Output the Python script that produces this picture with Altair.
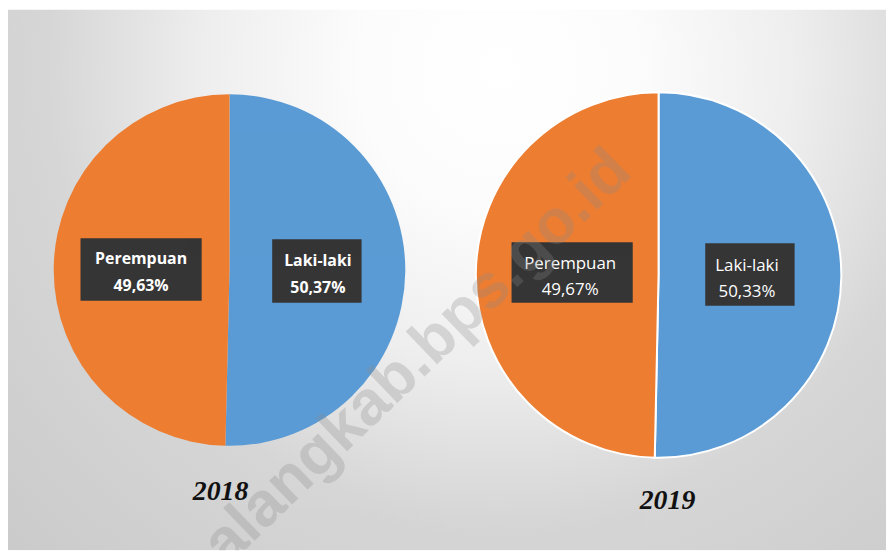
import altair as alt
import pandas as pd

# ---- data ----
years = ["2018", "2019"]
categories = ["Laki-laki", "Perempuan"]
pct_2018 = [50.37, 49.63]
pct_2019 = [50.33, 49.67]
pct_text_2018 = ["50,37%", "49,63%"]
pct_text_2019 = ["50,33%", "49,67%"]
watermark = "alangkab.bps.go.id"

rows = []
for yr, vals, txts in [("2018", pct_2018, pct_text_2018), ("2019", pct_2019, pct_text_2019)]:
    for i, (c, v, t) in enumerate(zip(categories, vals, txts)):
        rows.append({"year": yr, "cat": c, "pct": v, "idx": i, "label": c + "\n" + t})
df = pd.DataFrame(rows)
one = pd.DataFrame({"k": [0]})

# ---- layout ----
W, H = 884, 544
BLUE, ORANGE = "#5B9BD5", "#ED7D31"
BOX = "#353535"
pies = {"2018": dict(cx=223, cy=262, r=177, stroke=0, bold=True, ty=485, tx=214),
        "2019": dict(cx=655, cy=267, r=184, stroke=2, bold=False, ty=495, tx=664)}
boxes = [(73, 230, 195, 293), (266, 231, 356, 295), (507, 234, 629, 295), (702, 235, 792, 298)]

color = alt.Color("cat:N", scale=alt.Scale(domain=categories, range=[BLUE, ORANGE]), legend=None)

gradient = {
    "gradient": "radial",
    "x1": 0.55, "y1": 0.536, "r1": 0,
    "x2": 0.55, "y2": 0.536, "r2": 0.75,
    "stops": [
        {"offset": 0, "color": "#ffffff"},
        {"offset": 0.18, "color": "#fcfcfc"},
        {"offset": 0.38, "color": "#eeeeee"},
        {"offset": 0.58, "color": "#d6d6d6"},
        {"offset": 1, "color": "#c6c6c6"},
    ],
}

bg = alt.Chart(one).mark_rect(color=gradient, clip=True).encode(
    x=alt.value(0), x2=alt.value(W), y=alt.value(-500), y2=alt.value(H)
)

layers = [bg]
for yr in years:
    p = pies[yr]
    arc_kwargs = dict(outerRadius=p["r"])
    if p["stroke"]:
        arc_kwargs.update(stroke="white", strokeWidth=p["stroke"])
    layers.append(
        alt.Chart(df).transform_filter(alt.datum.year == yr).mark_arc(**arc_kwargs).encode(
            theta=alt.Theta("pct:Q", stack=True),
            order=alt.Order("idx:Q"),
            color=color,
            x=alt.value(p["cx"]), y=alt.value(p["cy"]),
        )
    )

for (x0, y0, x1, y1) in boxes:
    layers.append(
        alt.Chart(one).mark_rect(color=BOX).encode(
            x=alt.value(x0), x2=alt.value(x1), y=alt.value(y0), y2=alt.value(y1)
        )
    )

for yr in years:
    p = pies[yr]
    layers.append(
        alt.Chart(df).transform_filter(alt.datum.year == yr).mark_text(
            font="Open Sans", fontSize=16 if p["bold"] else 17,
            fontWeight="bold" if p["bold"] else "normal",
            color="white", lineBreak="\n", lineHeight=27 if p["bold"] else 26,
            baseline="middle", align="center", dy=-10,
        ).encode(
            theta=alt.Theta("pct:Q", stack=True),
            order=alt.Order("idx:Q"),
            radius=alt.value(89),
            text=alt.Text("label:N"),
            x=alt.value(p["cx"]), y=alt.value(p["cy"]),
        )
    )
    layers.append(
        alt.Chart(pd.DataFrame({"year": [yr]})).mark_text(
            font="Liberation Serif", fontSize=28, fontStyle="italic", fontWeight="bold",
            color="#111111", baseline="middle", align="center",
        ).encode(text="year:N", x=alt.value(p["tx"]), y=alt.value(p["ty"]))
    )

layers.append(
    alt.Chart(pd.DataFrame({"t": [watermark]})).mark_text(
        font="Liberation Sans", fontWeight="bold", fontSize=63, angle=316,
        color="#8a8a8a", opacity=0.28, baseline="middle", align="center", clip=True,
    ).encode(text="t:N", x=alt.value(412), y=alt.value(350))
)

chart = alt.layer(*layers).properties(
    width=W, height=H, autosize=alt.AutoSizeParams(type="none"), padding=0
).configure_view(strokeWidth=0)

chart.save("out.html", embed_options={"renderer": "svg", "actions": False})
